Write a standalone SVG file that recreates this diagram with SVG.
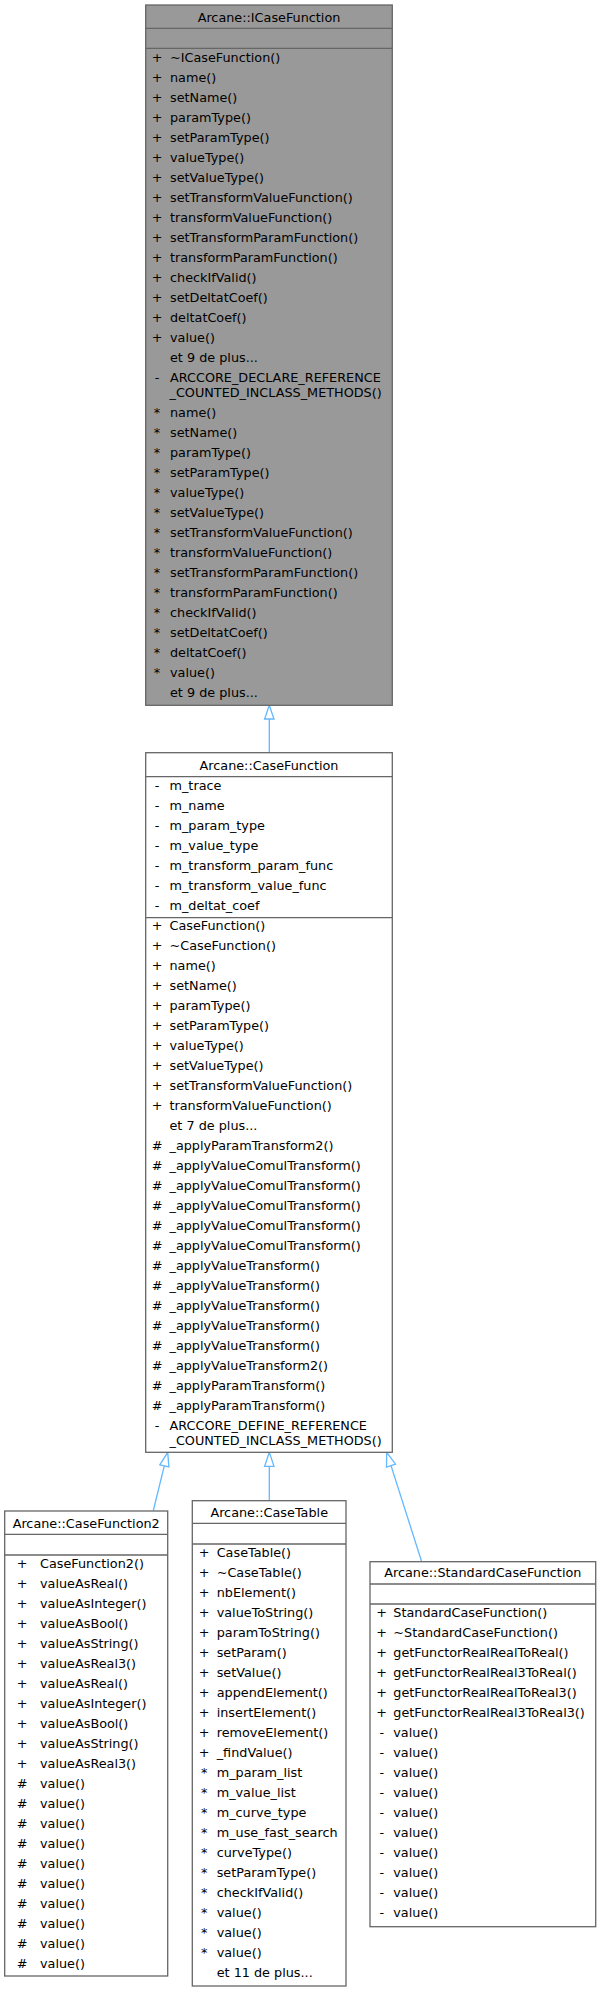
<svg xmlns="http://www.w3.org/2000/svg" width="601" height="1992" viewBox="0 0 601 1992">
<style>
.box{fill:#ffffff;stroke:#666666;stroke-width:1.3}
.hi{fill:#999999;stroke:#666666;stroke-width:1.3}
.sep{stroke:#666666;stroke-width:1.3;fill:none}
text{font-family:"DejaVu Sans","Liberation Sans",sans-serif;font-size:12.8px;fill:#000000}
.m{text-anchor:middle}
.edge{stroke:#63b8ff;stroke-width:1.3;fill:none}
.head{stroke:#63b8ff;stroke-width:1.3;fill:#ffffff}
</style>
<rect width="601" height="1992" fill="#ffffff"/>

<g id="edges">
<path class="edge" d="M269.3,752.7 L269.3,719"/>
<polygon class="head" points="269.3,705.3 264.6,719 274,719"/>
<path class="edge" d="M153.3,1510.5 L164.3,1465.9"/>
<polygon class="head" points="167.7,1452.3 168.9,1467 159.8,1464.8"/>
<path class="edge" d="M269.3,1500.7 L269.3,1466.3"/>
<polygon class="head" points="269.3,1452.3 264.6,1466.3 274,1466.3"/>
<path class="edge" d="M421.7,1561.7 L391,1465.6"/>
<polygon class="head" points="386.7,1452.3 395.5,1464.2 386.5,1467"/>
</g>

<g id="node-ICaseFunction">
<rect class="hi" x="145.7" y="5" width="246.6" height="700.3"/>
<line class="sep" x1="145.7" y1="28.3" x2="392.3" y2="28.3"/>
<line class="sep" x1="145.7" y1="48.3" x2="392.3" y2="48.3"/>
<text class="m" x="269" y="22">Arcane::ICaseFunction</text>
<g class="m">
<text class="m" x="157" y="61.8">+</text>
<text class="m" x="157" y="81.8">+</text>
<text class="m" x="157" y="101.8">+</text>
<text class="m" x="157" y="121.8">+</text>
<text class="m" x="157" y="141.8">+</text>
<text class="m" x="157" y="161.8">+</text>
<text class="m" x="157" y="181.8">+</text>
<text class="m" x="157" y="201.8">+</text>
<text class="m" x="157" y="221.8">+</text>
<text class="m" x="157" y="241.8">+</text>
<text class="m" x="157" y="261.8">+</text>
<text class="m" x="157" y="281.8">+</text>
<text class="m" x="157" y="301.8">+</text>
<text class="m" x="157" y="321.8">+</text>
<text class="m" x="157" y="341.8">+</text>
<text class="m" x="157" y="382">-</text>
<text class="m" x="157" y="416.8">*</text>
<text class="m" x="157" y="436.8">*</text>
<text class="m" x="157" y="456.8">*</text>
<text class="m" x="157" y="476.8">*</text>
<text class="m" x="157" y="496.8">*</text>
<text class="m" x="157" y="516.8">*</text>
<text class="m" x="157" y="536.8">*</text>
<text class="m" x="157" y="556.8">*</text>
<text class="m" x="157" y="576.8">*</text>
<text class="m" x="157" y="596.8">*</text>
<text class="m" x="157" y="616.8">*</text>
<text class="m" x="157" y="636.8">*</text>
<text class="m" x="157" y="656.8">*</text>
<text class="m" x="157" y="676.8">*</text>
</g>
<text x="170" y="61.8">~ICaseFunction()</text>
<text x="170" y="81.8">name()</text>
<text x="170" y="101.8">setName()</text>
<text x="170" y="121.8">paramType()</text>
<text x="170" y="141.8">setParamType()</text>
<text x="170" y="161.8">valueType()</text>
<text x="170" y="181.8">setValueType()</text>
<text x="170" y="201.8">setTransformValueFunction()</text>
<text x="170" y="221.8">transformValueFunction()</text>
<text x="170" y="241.8">setTransformParamFunction()</text>
<text x="170" y="261.8">transformParamFunction()</text>
<text x="170" y="281.8">checkIfValid()</text>
<text x="170" y="301.8">setDeltatCoef()</text>
<text x="170" y="321.8">deltatCoef()</text>
<text x="170" y="341.8">value()</text>
<text x="170" y="361.8">et 9 de plus...</text>
<text x="170" y="382">ARCCORE_DECLARE_REFERENCE</text>
<text x="169.5" y="397">_COUNTED_INCLASS_METHODS()</text>
<text x="170" y="416.8">name()</text>
<text x="170" y="436.8">setName()</text>
<text x="170" y="456.8">paramType()</text>
<text x="170" y="476.8">setParamType()</text>
<text x="170" y="496.8">valueType()</text>
<text x="170" y="516.8">setValueType()</text>
<text x="170" y="536.8">setTransformValueFunction()</text>
<text x="170" y="556.8">transformValueFunction()</text>
<text x="170" y="576.8">setTransformParamFunction()</text>
<text x="170" y="596.8">transformParamFunction()</text>
<text x="170" y="616.8">checkIfValid()</text>
<text x="170" y="636.8">setDeltatCoef()</text>
<text x="170" y="656.8">deltatCoef()</text>
<text x="170" y="676.8">value()</text>
<text x="170" y="696.8">et 9 de plus...</text>
</g>

<g id="node-CaseFunction">
<rect class="box" x="145.7" y="752.7" width="246.6" height="699.6"/>
<line class="sep" x1="145.7" y1="776.7" x2="392.3" y2="776.7"/>
<line class="sep" x1="145.7" y1="917.7" x2="392.3" y2="917.7"/>
<text class="m" x="269" y="770.4">Arcane::CaseFunction</text>
<text class="m" x="157" y="789.5">-</text>
<text class="m" x="157" y="809.5">-</text>
<text class="m" x="157" y="829.5">-</text>
<text class="m" x="157" y="849.5">-</text>
<text class="m" x="157" y="869.5">-</text>
<text class="m" x="157" y="889.5">-</text>
<text class="m" x="157" y="909.5">-</text>
<text x="169.5" y="789.5">m_trace</text>
<text x="169.5" y="809.5">m_name</text>
<text x="169.5" y="829.5">m_param_type</text>
<text x="169.5" y="849.5">m_value_type</text>
<text x="169.5" y="869.5">m_transform_param_func</text>
<text x="169.5" y="889.5">m_transform_value_func</text>
<text x="169.5" y="909.5">m_deltat_coef</text>
<text class="m" x="157" y="930.2">+</text>
<text class="m" x="157" y="950.2">+</text>
<text class="m" x="157" y="970.2">+</text>
<text class="m" x="157" y="990.2">+</text>
<text class="m" x="157" y="1010.2">+</text>
<text class="m" x="157" y="1030.2">+</text>
<text class="m" x="157" y="1050.2">+</text>
<text class="m" x="157" y="1070.2">+</text>
<text class="m" x="157" y="1090.2">+</text>
<text class="m" x="157" y="1110.2">+</text>
<text class="m" x="157" y="1150.2">#</text>
<text class="m" x="157" y="1170.2">#</text>
<text class="m" x="157" y="1190.2">#</text>
<text class="m" x="157" y="1210.2">#</text>
<text class="m" x="157" y="1230.2">#</text>
<text class="m" x="157" y="1250.2">#</text>
<text class="m" x="157" y="1270.2">#</text>
<text class="m" x="157" y="1290.2">#</text>
<text class="m" x="157" y="1310.2">#</text>
<text class="m" x="157" y="1330.2">#</text>
<text class="m" x="157" y="1350.2">#</text>
<text class="m" x="157" y="1370.2">#</text>
<text class="m" x="157" y="1390.2">#</text>
<text class="m" x="157" y="1410.2">#</text>
<text class="m" x="157" y="1430.2">-</text>
<text x="169.5" y="930.2">CaseFunction()</text>
<text x="169.5" y="950.2">~CaseFunction()</text>
<text x="169.5" y="970.2">name()</text>
<text x="169.5" y="990.2">setName()</text>
<text x="169.5" y="1010.2">paramType()</text>
<text x="169.5" y="1030.2">setParamType()</text>
<text x="169.5" y="1050.2">valueType()</text>
<text x="169.5" y="1070.2">setValueType()</text>
<text x="169.5" y="1090.2">setTransformValueFunction()</text>
<text x="169.5" y="1110.2">transformValueFunction()</text>
<text x="169.5" y="1130.2">et 7 de plus...</text>
<text x="169.5" y="1150.2">_applyParamTransform2()</text>
<text x="169.5" y="1170.2">_applyValueComulTransform()</text>
<text x="169.5" y="1190.2">_applyValueComulTransform()</text>
<text x="169.5" y="1210.2">_applyValueComulTransform()</text>
<text x="169.5" y="1230.2">_applyValueComulTransform()</text>
<text x="169.5" y="1250.2">_applyValueComulTransform()</text>
<text x="169.5" y="1270.2">_applyValueTransform()</text>
<text x="169.5" y="1290.2">_applyValueTransform()</text>
<text x="169.5" y="1310.2">_applyValueTransform()</text>
<text x="169.5" y="1330.2">_applyValueTransform()</text>
<text x="169.5" y="1350.2">_applyValueTransform()</text>
<text x="169.5" y="1370.2">_applyValueTransform2()</text>
<text x="169.5" y="1390.2">_applyParamTransform()</text>
<text x="169.5" y="1410.2">_applyParamTransform()</text>
<text x="169.5" y="1430.2">ARCCORE_DEFINE_REFERENCE</text>
<text x="169.5" y="1445.2">_COUNTED_INCLASS_METHODS()</text>
</g>

<g id="node-CaseFunction2">
<rect class="box" x="4.7" y="1511" width="163" height="465"/>
<line class="sep" x1="4.7" y1="1534.3" x2="167.7" y2="1534.3"/>
<line class="sep" x1="4.7" y1="1555" x2="167.7" y2="1555"/>
<text class="m" x="86.2" y="1528">Arcane::CaseFunction2</text>
<text class="m" x="22" y="1567.8">+</text>
<text class="m" x="22" y="1587.8">+</text>
<text class="m" x="22" y="1607.8">+</text>
<text class="m" x="22" y="1627.8">+</text>
<text class="m" x="22" y="1647.8">+</text>
<text class="m" x="22" y="1667.8">+</text>
<text class="m" x="22" y="1687.8">+</text>
<text class="m" x="22" y="1707.8">+</text>
<text class="m" x="22" y="1727.8">+</text>
<text class="m" x="22" y="1747.8">+</text>
<text class="m" x="22" y="1767.8">+</text>
<text class="m" x="22" y="1787.8">#</text>
<text class="m" x="22" y="1807.8">#</text>
<text class="m" x="22" y="1827.8">#</text>
<text class="m" x="22" y="1847.8">#</text>
<text class="m" x="22" y="1867.8">#</text>
<text class="m" x="22" y="1887.8">#</text>
<text class="m" x="22" y="1907.8">#</text>
<text class="m" x="22" y="1927.8">#</text>
<text class="m" x="22" y="1947.8">#</text>
<text class="m" x="22" y="1967.8">#</text>
<text x="40" y="1567.8">CaseFunction2()</text>
<text x="40" y="1587.8">valueAsReal()</text>
<text x="40" y="1607.8">valueAsInteger()</text>
<text x="40" y="1627.8">valueAsBool()</text>
<text x="40" y="1647.8">valueAsString()</text>
<text x="40" y="1667.8">valueAsReal3()</text>
<text x="40" y="1687.8">valueAsReal()</text>
<text x="40" y="1707.8">valueAsInteger()</text>
<text x="40" y="1727.8">valueAsBool()</text>
<text x="40" y="1747.8">valueAsString()</text>
<text x="40" y="1767.8">valueAsReal3()</text>
<text x="40" y="1787.8">value()</text>
<text x="40" y="1807.8">value()</text>
<text x="40" y="1827.8">value()</text>
<text x="40" y="1847.8">value()</text>
<text x="40" y="1867.8">value()</text>
<text x="40" y="1887.8">value()</text>
<text x="40" y="1907.8">value()</text>
<text x="40" y="1927.8">value()</text>
<text x="40" y="1947.8">value()</text>
<text x="40" y="1967.8">value()</text>
</g>

<g id="node-CaseTable">
<rect class="box" x="192.3" y="1500.7" width="153.7" height="485.3"/>
<line class="sep" x1="192.3" y1="1523.3" x2="346" y2="1523.3"/>
<line class="sep" x1="192.3" y1="1544" x2="346" y2="1544"/>
<text class="m" x="269.2" y="1517">Arcane::CaseTable</text>
<text class="m" x="204.2" y="1557.2">+</text>
<text class="m" x="204.2" y="1577.2">+</text>
<text class="m" x="204.2" y="1597.2">+</text>
<text class="m" x="204.2" y="1617.2">+</text>
<text class="m" x="204.2" y="1637.2">+</text>
<text class="m" x="204.2" y="1657.2">+</text>
<text class="m" x="204.2" y="1677.2">+</text>
<text class="m" x="204.2" y="1697.2">+</text>
<text class="m" x="204.2" y="1717.2">+</text>
<text class="m" x="204.2" y="1737.2">+</text>
<text class="m" x="204.2" y="1757.2">+</text>
<text class="m" x="204.2" y="1777.2">*</text>
<text class="m" x="204.2" y="1797.2">*</text>
<text class="m" x="204.2" y="1817.2">*</text>
<text class="m" x="204.2" y="1837.2">*</text>
<text class="m" x="204.2" y="1857.2">*</text>
<text class="m" x="204.2" y="1877.2">*</text>
<text class="m" x="204.2" y="1897.2">*</text>
<text class="m" x="204.2" y="1917.2">*</text>
<text class="m" x="204.2" y="1937.2">*</text>
<text class="m" x="204.2" y="1957.2">*</text>
<text x="216.7" y="1557.2">CaseTable()</text>
<text x="216.7" y="1577.2">~CaseTable()</text>
<text x="216.7" y="1597.2">nbElement()</text>
<text x="216.7" y="1617.2">valueToString()</text>
<text x="216.7" y="1637.2">paramToString()</text>
<text x="216.7" y="1657.2">setParam()</text>
<text x="216.7" y="1677.2">setValue()</text>
<text x="216.7" y="1697.2">appendElement()</text>
<text x="216.7" y="1717.2">insertElement()</text>
<text x="216.7" y="1737.2">removeElement()</text>
<text x="216.7" y="1757.2">_findValue()</text>
<text x="216.7" y="1777.2">m_param_list</text>
<text x="216.7" y="1797.2">m_value_list</text>
<text x="216.7" y="1817.2">m_curve_type</text>
<text x="216.7" y="1837.2">m_use_fast_search</text>
<text x="216.7" y="1857.2">curveType()</text>
<text x="216.7" y="1877.2">setParamType()</text>
<text x="216.7" y="1897.2">checkIfValid()</text>
<text x="216.7" y="1917.2">value()</text>
<text x="216.7" y="1937.2">value()</text>
<text x="216.7" y="1957.2">value()</text>
<text x="216.7" y="1977.2">et 11 de plus...</text>
</g>

<g id="node-StandardCaseFunction">
<rect class="box" x="370" y="1561.7" width="225.7" height="365"/>
<line class="sep" x1="370" y1="1584" x2="595.7" y2="1584"/>
<line class="sep" x1="370" y1="1604" x2="595.7" y2="1604"/>
<text class="m" x="482.8" y="1577.3">Arcane::StandardCaseFunction</text>
<text class="m" x="381.7" y="1617.2">+</text>
<text class="m" x="381.7" y="1637.2">+</text>
<text class="m" x="381.7" y="1657.2">+</text>
<text class="m" x="381.7" y="1677.2">+</text>
<text class="m" x="381.7" y="1697.2">+</text>
<text class="m" x="381.7" y="1717.2">+</text>
<text class="m" x="381.7" y="1737.2">-</text>
<text class="m" x="381.7" y="1757.2">-</text>
<text class="m" x="381.7" y="1777.2">-</text>
<text class="m" x="381.7" y="1797.2">-</text>
<text class="m" x="381.7" y="1817.2">-</text>
<text class="m" x="381.7" y="1837.2">-</text>
<text class="m" x="381.7" y="1857.2">-</text>
<text class="m" x="381.7" y="1877.2">-</text>
<text class="m" x="381.7" y="1897.2">-</text>
<text class="m" x="381.7" y="1917.2">-</text>
<text x="393.3" y="1617.2">StandardCaseFunction()</text>
<text x="393.3" y="1637.2">~StandardCaseFunction()</text>
<text x="393.3" y="1657.2">getFunctorRealRealToReal()</text>
<text x="393.3" y="1677.2">getFunctorRealReal3ToReal()</text>
<text x="393.3" y="1697.2">getFunctorRealRealToReal3()</text>
<text x="393.3" y="1717.2">getFunctorRealReal3ToReal3()</text>
<text x="393.3" y="1737.2">value()</text>
<text x="393.3" y="1757.2">value()</text>
<text x="393.3" y="1777.2">value()</text>
<text x="393.3" y="1797.2">value()</text>
<text x="393.3" y="1817.2">value()</text>
<text x="393.3" y="1837.2">value()</text>
<text x="393.3" y="1857.2">value()</text>
<text x="393.3" y="1877.2">value()</text>
<text x="393.3" y="1897.2">value()</text>
<text x="393.3" y="1917.2">value()</text>
</g>
</svg>
